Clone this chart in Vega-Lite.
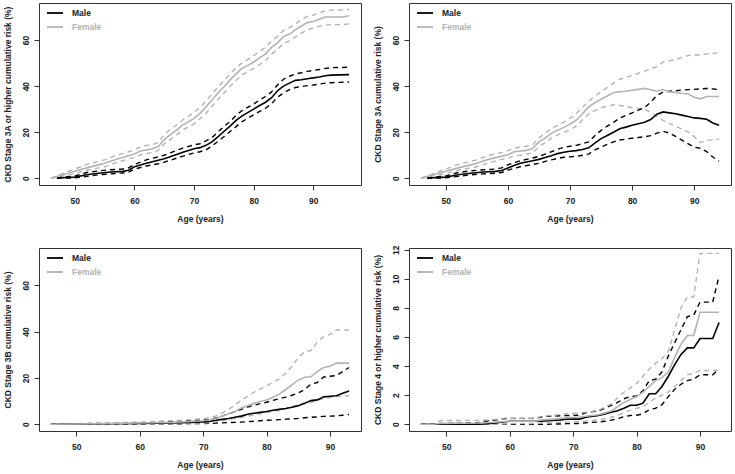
{
"$schema": "https://vega.github.io/schema/vega-lite/v6.json",
"padding": {"left": 2, "top": 2, "right": 0, "bottom": 0},
"background": "white",
"datasets": {
"p1": [
{"age":47,"sex":"Male","est":0,"lo":0,"hi":0},{"age":48,"sex":"Male","est":0.2,"lo":0,"hi":0.5},{"age":50,"sex":"Male","est":0.5,"lo":0.2,"hi":1},{"age":52,"sex":"Male","est":1.5,"lo":0.8,"hi":2.5},{"age":54,"sex":"Male","est":2.2,"lo":1.5,"hi":3.2},{"age":56,"sex":"Male","est":2.7,"lo":1.9,"hi":3.7},{"age":58,"sex":"Male","est":3,"lo":2.3,"hi":4},{"age":59,"sex":"Male","est":3.5,"lo":2.6,"hi":4.5},{"age":60,"sex":"Male","est":5,"lo":4,"hi":6},{"age":62,"sex":"Male","est":6.5,"lo":5.3,"hi":8},{"age":64,"sex":"Male","est":7.8,"lo":6.3,"hi":9.3},{"age":65,"sex":"Male","est":8.5,"lo":7,"hi":10},{"age":66,"sex":"Male","est":9.3,"lo":7.8,"hi":11},{"age":68,"sex":"Male","est":11.2,"lo":9.5,"hi":13},{"age":70,"sex":"Male","est":12.8,"lo":11,"hi":14.5},{"age":71,"sex":"Male","est":13.3,"lo":11.5,"hi":15},{"age":72,"sex":"Male","est":14.3,"lo":12.3,"hi":16.2},{"age":73,"sex":"Male","est":15.8,"lo":14,"hi":17.6},{"age":74,"sex":"Male","est":18,"lo":16,"hi":20},{"age":75,"sex":"Male","est":20.3,"lo":18,"hi":22.5},{"age":76,"sex":"Male","est":22.5,"lo":20.2,"hi":24.5},{"age":77,"sex":"Male","est":25,"lo":22.3,"hi":27.2},{"age":78,"sex":"Male","est":27,"lo":24.5,"hi":29.3},{"age":79,"sex":"Male","est":28.5,"lo":26,"hi":30.8},{"age":80,"sex":"Male","est":30,"lo":27.5,"hi":32.2},{"age":81,"sex":"Male","est":31.6,"lo":29,"hi":34},{"age":82,"sex":"Male","est":33,"lo":30.4,"hi":35.5},{"age":83,"sex":"Male","est":35,"lo":32.4,"hi":37.5},{"age":84,"sex":"Male","est":38,"lo":35.2,"hi":40.5},{"age":85,"sex":"Male","est":40,"lo":37,"hi":43},{"age":86,"sex":"Male","est":41.3,"lo":38.5,"hi":44.3},{"age":87,"sex":"Male","est":42.5,"lo":39.4,"hi":45.3},{"age":88,"sex":"Male","est":42.8,"lo":39.8,"hi":45.8},{"age":89,"sex":"Male","est":43.2,"lo":40.2,"hi":46.4},{"age":90,"sex":"Male","est":43.6,"lo":40.5,"hi":46.8},{"age":91,"sex":"Male","est":44,"lo":40.9,"hi":47.2},{"age":92,"sex":"Male","est":44.5,"lo":41.3,"hi":47.7},{"age":93,"sex":"Male","est":44.8,"lo":41.5,"hi":48},{"age":96,"sex":"Male","est":45,"lo":41.8,"hi":48.2},
{"age":46,"sex":"Female","est":0,"lo":0,"hi":0},{"age":48,"sex":"Female","est":1.5,"lo":1,"hi":2},{"age":50,"sex":"Female","est":3,"lo":2,"hi":4},{"age":52,"sex":"Female","est":4.5,"lo":3.5,"hi":6},{"age":54,"sex":"Female","est":5.8,"lo":4.5,"hi":7.4},{"age":55,"sex":"Female","est":6.5,"lo":5,"hi":8},{"age":57,"sex":"Female","est":8.3,"lo":6.8,"hi":10},{"age":59,"sex":"Female","est":9.8,"lo":8.4,"hi":11.5},{"age":60,"sex":"Female","est":10.5,"lo":9,"hi":12.3},{"age":61,"sex":"Female","est":11.8,"lo":10.2,"hi":13.6},{"age":62,"sex":"Female","est":12.3,"lo":10.6,"hi":14.2},{"age":63,"sex":"Female","est":12.8,"lo":11.2,"hi":14.6},{"age":64,"sex":"Female","est":13.8,"lo":12.1,"hi":15.5},{"age":65,"sex":"Female","est":16.8,"lo":15,"hi":19},{"age":66,"sex":"Female","est":18.8,"lo":16.8,"hi":21.2},{"age":67,"sex":"Female","est":20.8,"lo":18.6,"hi":23},{"age":68,"sex":"Female","est":23,"lo":20.8,"hi":25.2},{"age":69,"sex":"Female","est":24.5,"lo":22.3,"hi":26.8},{"age":70,"sex":"Female","est":26,"lo":23.6,"hi":28.6},{"age":71,"sex":"Female","est":28.2,"lo":25.8,"hi":30.8},{"age":72,"sex":"Female","est":31,"lo":28.2,"hi":33.5},{"age":73,"sex":"Female","est":34,"lo":31.2,"hi":36.5},{"age":74,"sex":"Female","est":37,"lo":34.2,"hi":39.6},{"age":75,"sex":"Female","est":39.6,"lo":36.9,"hi":42.3},{"age":76,"sex":"Female","est":42.6,"lo":39.7,"hi":45.2},{"age":77,"sex":"Female","est":45.2,"lo":42.4,"hi":47.9},{"age":78,"sex":"Female","est":47.6,"lo":44.8,"hi":50},{"age":79,"sex":"Female","est":49,"lo":46.3,"hi":51.5},{"age":80,"sex":"Female","est":50.5,"lo":47.7,"hi":53.2},{"age":81,"sex":"Female","est":52.3,"lo":49.4,"hi":55.1},{"age":82,"sex":"Female","est":54,"lo":51.1,"hi":56.9},{"age":83,"sex":"Female","est":56.8,"lo":53.9,"hi":59.6},{"age":84,"sex":"Female","est":58.8,"lo":55.9,"hi":61.6},{"age":85,"sex":"Female","est":61.5,"lo":58.6,"hi":64.2},{"age":86,"sex":"Female","est":62.6,"lo":59.6,"hi":65.4},{"age":87,"sex":"Female","est":64.4,"lo":61.4,"hi":67.1},{"age":88,"sex":"Female","est":66.1,"lo":63,"hi":68.8},{"age":89,"sex":"Female","est":67.6,"lo":64.5,"hi":70.3},{"age":90,"sex":"Female","est":68.1,"lo":65.2,"hi":70.9},{"age":91,"sex":"Female","est":69,"lo":66,"hi":71.8},{"age":92,"sex":"Female","est":70,"lo":66.6,"hi":72.7},{"age":93,"sex":"Female","est":70,"lo":66.7,"hi":73},{"age":95,"sex":"Female","est":70,"lo":66.8,"hi":73.1},{"age":96,"sex":"Female","est":70.6,"lo":67,"hi":73.4}
],
"p2": [
{"age":47,"sex":"Male","est":0,"lo":0,"hi":0},{"age":48,"sex":"Male","est":0.2,"lo":0,"hi":0.5},{"age":50,"sex":"Male","est":0.5,"lo":0.2,"hi":1},{"age":52,"sex":"Male","est":1.5,"lo":0.8,"hi":2.5},{"age":54,"sex":"Male","est":2.2,"lo":1.5,"hi":3.2},{"age":56,"sex":"Male","est":2.7,"lo":1.9,"hi":3.7},{"age":58,"sex":"Male","est":3,"lo":2.2,"hi":4},{"age":59,"sex":"Male","est":3.4,"lo":2.5,"hi":4.5},{"age":60,"sex":"Male","est":4.5,"lo":3.5,"hi":5.8},{"age":61,"sex":"Male","est":5.5,"lo":4.3,"hi":6.8},{"age":62,"sex":"Male","est":6.5,"lo":5,"hi":7.6},{"age":64,"sex":"Male","est":7.6,"lo":6,"hi":8.8},{"age":65,"sex":"Male","est":8.2,"lo":6.5,"hi":9.5},{"age":66,"sex":"Male","est":9,"lo":7.3,"hi":10.5},{"age":67,"sex":"Male","est":9.8,"lo":8,"hi":11.5},{"age":68,"sex":"Male","est":10.7,"lo":8.6,"hi":12.6},{"age":69,"sex":"Male","est":11.3,"lo":9.1,"hi":13.4},{"age":70,"sex":"Male","est":11.7,"lo":9.3,"hi":13.9},{"age":71,"sex":"Male","est":12,"lo":9.5,"hi":14.3},{"age":72,"sex":"Male","est":12.5,"lo":10,"hi":15},{"age":73,"sex":"Male","est":13.2,"lo":10.5,"hi":15.8},{"age":74,"sex":"Male","est":15.3,"lo":12.3,"hi":18.5},{"age":75,"sex":"Male","est":17.2,"lo":13.5,"hi":20.8},{"age":76,"sex":"Male","est":18.6,"lo":14.7,"hi":22.6},{"age":77,"sex":"Male","est":20,"lo":15.8,"hi":24.3},{"age":78,"sex":"Male","est":21.5,"lo":16.6,"hi":26.1},{"age":79,"sex":"Male","est":22.2,"lo":17,"hi":27.3},{"age":80,"sex":"Male","est":23,"lo":17.4,"hi":28.4},{"age":81,"sex":"Male","est":23.7,"lo":17.7,"hi":29.6},{"age":82,"sex":"Male","est":24.3,"lo":18,"hi":30.7},{"age":83,"sex":"Male","est":25.5,"lo":18.5,"hi":33},{"age":84,"sex":"Male","est":27.8,"lo":19.6,"hi":36},{"age":85,"sex":"Male","est":28.8,"lo":20.4,"hi":37.4},{"age":86,"sex":"Male","est":28.4,"lo":19.6,"hi":37.8},{"age":87,"sex":"Male","est":28,"lo":18.2,"hi":38},{"age":88,"sex":"Male","est":27.4,"lo":16.6,"hi":38.3},{"age":89,"sex":"Male","est":26.8,"lo":15,"hi":38.5},{"age":90,"sex":"Male","est":26.2,"lo":13.5,"hi":38.6},{"age":91,"sex":"Male","est":26,"lo":13,"hi":38.8},{"age":92,"sex":"Male","est":25.6,"lo":11.6,"hi":39},{"age":93,"sex":"Male","est":24,"lo":9.2,"hi":38.8},{"age":94,"sex":"Male","est":23,"lo":7.4,"hi":38.4},
{"age":46,"sex":"Female","est":0,"lo":0,"hi":0},{"age":48,"sex":"Female","est":1.5,"lo":1,"hi":2},{"age":50,"sex":"Female","est":3,"lo":2,"hi":4},{"age":52,"sex":"Female","est":4.5,"lo":3.5,"hi":6},{"age":54,"sex":"Female","est":5.8,"lo":4.5,"hi":7.4},{"age":55,"sex":"Female","est":6.5,"lo":5,"hi":8},{"age":57,"sex":"Female","est":8.3,"lo":6.8,"hi":10},{"age":59,"sex":"Female","est":9.6,"lo":8.2,"hi":11.2},{"age":60,"sex":"Female","est":10.2,"lo":8.6,"hi":12},{"age":61,"sex":"Female","est":11.5,"lo":9.8,"hi":13.1},{"age":62,"sex":"Female","est":11.8,"lo":10,"hi":13.5},{"age":63,"sex":"Female","est":12.1,"lo":10.5,"hi":13.9},{"age":64,"sex":"Female","est":13,"lo":11,"hi":14.6},{"age":65,"sex":"Female","est":15.8,"lo":13.8,"hi":17.6},{"age":66,"sex":"Female","est":17.4,"lo":15.4,"hi":19.5},{"age":67,"sex":"Female","est":19.5,"lo":17.4,"hi":21.6},{"age":68,"sex":"Female","est":20.9,"lo":18.8,"hi":23},{"age":69,"sex":"Female","est":22.1,"lo":19.9,"hi":24.4},{"age":70,"sex":"Female","est":23.5,"lo":21,"hi":26},{"age":71,"sex":"Female","est":25.2,"lo":22.6,"hi":28.1},{"age":72,"sex":"Female","est":28,"lo":25.3,"hi":30.8},{"age":73,"sex":"Female","est":31,"lo":27.9,"hi":33.4},{"age":74,"sex":"Female","est":32.8,"lo":29.4,"hi":35.6},{"age":75,"sex":"Female","est":34.3,"lo":30.6,"hi":37.6},{"age":76,"sex":"Female","est":35.7,"lo":31.3,"hi":39.4},{"age":77,"sex":"Female","est":37.1,"lo":31.9,"hi":41.3},{"age":78,"sex":"Female","est":37.6,"lo":31.6,"hi":43},{"age":79,"sex":"Female","est":37.8,"lo":31.1,"hi":43.8},{"age":80,"sex":"Female","est":38.2,"lo":30.6,"hi":44.6},{"age":81,"sex":"Female","est":38.6,"lo":30.3,"hi":45.6},{"age":82,"sex":"Female","est":39,"lo":30,"hi":46.5},{"age":83,"sex":"Female","est":38.4,"lo":28.6,"hi":47.5},{"age":84,"sex":"Female","est":37.8,"lo":26.9,"hi":48.5},{"age":85,"sex":"Female","est":38.5,"lo":25,"hi":50.5},{"age":86,"sex":"Female","est":37.5,"lo":23.8,"hi":51},{"age":87,"sex":"Female","est":37.3,"lo":22.6,"hi":51.5},{"age":88,"sex":"Female","est":36.9,"lo":21.4,"hi":52.5},{"age":89,"sex":"Female","est":36.6,"lo":20.1,"hi":53.3},{"age":90,"sex":"Female","est":35.2,"lo":18.1,"hi":53.5},{"age":91,"sex":"Female","est":34.5,"lo":15.5,"hi":53.5},{"age":92,"sex":"Female","est":35.5,"lo":16.4,"hi":54},{"age":94,"sex":"Female","est":35.5,"lo":17,"hi":54.5}
],
"p3": [
{"age":46,"sex":"Male","est":0,"lo":0,"hi":0},{"age":50,"sex":"Male","est":0.1,"lo":0,"hi":0.2},{"age":55,"sex":"Male","est":0.2,"lo":0,"hi":0.4},{"age":60,"sex":"Male","est":0.3,"lo":0.1,"hi":0.6},{"age":65,"sex":"Male","est":0.6,"lo":0.2,"hi":1.1},{"age":68,"sex":"Male","est":0.8,"lo":0.25,"hi":1.5},{"age":70,"sex":"Male","est":1,"lo":0.3,"hi":1.8},{"age":71,"sex":"Male","est":1.2,"lo":0.35,"hi":2.1},{"age":72,"sex":"Male","est":1.7,"lo":0.5,"hi":2.7},{"age":73,"sex":"Male","est":2.1,"lo":0.6,"hi":3.5},{"age":74,"sex":"Male","est":2.5,"lo":0.7,"hi":4.5},{"age":75,"sex":"Male","est":3,"lo":0.8,"hi":5.4},{"age":76,"sex":"Male","est":3.5,"lo":0.9,"hi":6.4},{"age":77,"sex":"Male","est":4.3,"lo":1.1,"hi":7.4},{"age":78,"sex":"Male","est":4.7,"lo":1.3,"hi":8.2},{"age":79,"sex":"Male","est":5.1,"lo":1.5,"hi":8.9},{"age":80,"sex":"Male","est":5.5,"lo":1.7,"hi":9.5},{"age":81,"sex":"Male","est":6,"lo":1.8,"hi":10.3},{"age":82,"sex":"Male","est":6.4,"lo":2,"hi":11},{"age":83,"sex":"Male","est":6.8,"lo":2.2,"hi":11.7},{"age":84,"sex":"Male","est":7.3,"lo":2.3,"hi":12.5},{"age":85,"sex":"Male","est":8,"lo":2.5,"hi":13.5},{"age":86,"sex":"Male","est":9,"lo":2.8,"hi":15},{"age":87,"sex":"Male","est":10.2,"lo":3,"hi":17.3},{"age":88,"sex":"Male","est":10.5,"lo":3.1,"hi":18},{"age":89,"sex":"Male","est":11.8,"lo":3.4,"hi":20.4},{"age":90,"sex":"Male","est":12.1,"lo":3.5,"hi":20.7},{"age":91,"sex":"Male","est":12.3,"lo":3.6,"hi":21},{"age":92,"sex":"Male","est":13.4,"lo":3.9,"hi":22.8},{"age":93,"sex":"Male","est":14.3,"lo":4.2,"hi":24.5},
{"age":46,"sex":"Female","est":0,"lo":0,"hi":0},{"age":50,"sex":"Female","est":0.1,"lo":0,"hi":0.2},{"age":55,"sex":"Female","est":0.3,"lo":0.1,"hi":0.6},{"age":60,"sex":"Female","est":0.5,"lo":0.2,"hi":0.9},{"age":65,"sex":"Female","est":0.8,"lo":0.3,"hi":1.5},{"age":68,"sex":"Female","est":1.2,"lo":0.4,"hi":2},{"age":70,"sex":"Female","est":1.5,"lo":0.5,"hi":2.5},{"age":71,"sex":"Female","est":1.9,"lo":0.7,"hi":2.9},{"age":72,"sex":"Female","est":2.5,"lo":1,"hi":3.6},{"age":73,"sex":"Female","est":3.4,"lo":1.5,"hi":4.8},{"age":74,"sex":"Female","est":4.5,"lo":2,"hi":6.4},{"age":75,"sex":"Female","est":5.5,"lo":2.5,"hi":8.2},{"age":76,"sex":"Female","est":7,"lo":3,"hi":10.3},{"age":77,"sex":"Female","est":8,"lo":3.5,"hi":12},{"age":78,"sex":"Female","est":9,"lo":4,"hi":13.8},{"age":79,"sex":"Female","est":9.8,"lo":4.5,"hi":15.2},{"age":80,"sex":"Female","est":10.5,"lo":5,"hi":16.6},{"age":81,"sex":"Female","est":11.6,"lo":5.5,"hi":18.2},{"age":82,"sex":"Female","est":13,"lo":6,"hi":19.6},{"age":83,"sex":"Female","est":15,"lo":6.7,"hi":22},{"age":84,"sex":"Female","est":17,"lo":7.5,"hi":25},{"age":85,"sex":"Female","est":19,"lo":8.5,"hi":28.8},{"age":86,"sex":"Female","est":20.3,"lo":9,"hi":31.3},{"age":87,"sex":"Female","est":20.5,"lo":9.3,"hi":31.8},{"age":88,"sex":"Female","est":22.8,"lo":10.4,"hi":35.5},{"age":89,"sex":"Female","est":24.5,"lo":11,"hi":37.8},{"age":90,"sex":"Female","est":25,"lo":11.5,"hi":38.8},{"age":91,"sex":"Female","est":26.4,"lo":12,"hi":40.7},{"age":93,"sex":"Female","est":26.4,"lo":12.3,"hi":40.7}
],
"p4": [
{"age":46,"sex":"Male","est":0,"lo":0,"hi":0},{"age":49,"sex":"Male","est":0,"lo":0,"hi":0.05},{"age":55,"sex":"Male","est":0,"lo":0,"hi":0.1},{"age":56,"sex":"Male","est":0.02,"lo":0,"hi":0.2},{"age":57,"sex":"Male","est":0.05,"lo":0,"hi":0.25},{"age":58,"sex":"Male","est":0.1,"lo":0,"hi":0.3},{"age":59,"sex":"Male","est":0.15,"lo":0,"hi":0.38},{"age":60,"sex":"Male","est":0.2,"lo":0,"hi":0.4},{"age":64,"sex":"Male","est":0.2,"lo":0,"hi":0.4},{"age":65,"sex":"Male","est":0.2,"lo":0,"hi":0.5},{"age":66,"sex":"Male","est":0.25,"lo":0,"hi":0.55},{"age":68,"sex":"Male","est":0.3,"lo":0.02,"hi":0.58},{"age":69,"sex":"Male","est":0.35,"lo":0.04,"hi":0.6},{"age":71,"sex":"Male","est":0.35,"lo":0.05,"hi":0.62},{"age":72,"sex":"Male","est":0.48,"lo":0.1,"hi":0.8},{"age":74,"sex":"Male","est":0.6,"lo":0.15,"hi":0.92},{"age":75,"sex":"Male","est":0.7,"lo":0.2,"hi":1.1},{"age":76,"sex":"Male","est":0.82,"lo":0.28,"hi":1.3},{"age":77,"sex":"Male","est":0.92,"lo":0.38,"hi":1.5},{"age":78,"sex":"Male","est":1.1,"lo":0.52,"hi":1.75},{"age":79,"sex":"Male","est":1.3,"lo":0.6,"hi":1.9},{"age":80,"sex":"Male","est":1.3,"lo":0.62,"hi":1.95},{"age":81,"sex":"Male","est":1.45,"lo":0.72,"hi":2.3},{"age":82,"sex":"Male","est":2.1,"lo":1,"hi":3},{"age":83,"sex":"Male","est":2.1,"lo":1.1,"hi":3.1},{"age":84,"sex":"Male","est":2.6,"lo":1.35,"hi":3.6},{"age":85,"sex":"Male","est":3.3,"lo":1.9,"hi":4.7},{"age":86,"sex":"Male","est":4.1,"lo":2.4,"hi":5.6},{"age":87,"sex":"Male","est":4.8,"lo":2.75,"hi":6.5},{"age":88,"sex":"Male","est":5.25,"lo":3,"hi":7.4},{"age":89,"sex":"Male","est":5.25,"lo":3.1,"hi":7.5},{"age":90,"sex":"Male","est":5.9,"lo":3.4,"hi":8.4},{"age":92,"sex":"Male","est":5.9,"lo":3.4,"hi":8.4},{"age":93,"sex":"Male","est":7,"lo":3.8,"hi":10.2},
{"age":46,"sex":"Female","est":0,"lo":0,"hi":0},{"age":48,"sex":"Female","est":0,"lo":0,"hi":0},{"age":49,"sex":"Female","est":0.05,"lo":0,"hi":0.25},{"age":55,"sex":"Female","est":0.08,"lo":0,"hi":0.27},{"age":57,"sex":"Female","est":0.12,"lo":0,"hi":0.3},{"age":58,"sex":"Female","est":0.15,"lo":0,"hi":0.35},{"age":60,"sex":"Female","est":0.2,"lo":0.04,"hi":0.38},{"age":64,"sex":"Female","est":0.2,"lo":0.05,"hi":0.4},{"age":65,"sex":"Female","est":0.3,"lo":0.08,"hi":0.55},{"age":67,"sex":"Female","est":0.35,"lo":0.12,"hi":0.62},{"age":69,"sex":"Female","est":0.45,"lo":0.15,"hi":0.72},{"age":71,"sex":"Female","est":0.5,"lo":0.2,"hi":0.78},{"age":73,"sex":"Female","est":0.6,"lo":0.25,"hi":0.88},{"age":74,"sex":"Female","est":0.65,"lo":0.3,"hi":0.98},{"age":75,"sex":"Female","est":0.78,"lo":0.38,"hi":1.15},{"age":76,"sex":"Female","est":0.9,"lo":0.48,"hi":1.4},{"age":77,"sex":"Female","est":1.2,"lo":0.6,"hi":1.8},{"age":78,"sex":"Female","est":1.5,"lo":0.8,"hi":2.2},{"age":79,"sex":"Female","est":1.7,"lo":0.95,"hi":2.5},{"age":80,"sex":"Female","est":1.9,"lo":1.1,"hi":2.8},{"age":81,"sex":"Female","est":2.2,"lo":1.2,"hi":3.3},{"age":82,"sex":"Female","est":2.6,"lo":1.5,"hi":3.8},{"age":83,"sex":"Female","est":3,"lo":1.8,"hi":4.2},{"age":84,"sex":"Female","est":3.2,"lo":2,"hi":4.5},{"age":85,"sex":"Female","est":3.6,"lo":2.2,"hi":5},{"age":86,"sex":"Female","est":4.6,"lo":2.6,"hi":6.5},{"age":87,"sex":"Female","est":5.5,"lo":3,"hi":8},{"age":88,"sex":"Female","est":6.1,"lo":3.4,"hi":8.75},{"age":89,"sex":"Female","est":6.1,"lo":3.5,"hi":8.75},{"age":90,"sex":"Female","est":7.7,"lo":3.7,"hi":11.75},{"age":93,"sex":"Female","est":7.7,"lo":3.7,"hi":11.75}
]
},
"vconcat": [
{"hconcat": [
{"width": 322, "height": 182, "data": {"name": "p1"},
 "encoding": {"x": {"field": "age", "type": "quantitative", "scale": {"domain": [44, 98], "nice": false, "zero": false}, "axis": {"title": "Age (years)", "values": [50,60,70,80,90]}},
  "color": {"field": "sex", "type": "nominal", "scale": {"domain": ["Male","Female"], "range": ["black","#b3b3b3"]}, "legend": {"title": null, "orient": "none", "legendX": 7, "legendY": 1}}},
 "layer": [
  {"mark": {"type": "line", "strokeWidth": 1.4, "strokeDash": [5,4]}, "encoding": {"y": {"field": "lo", "type": "quantitative", "title": "CKD Stage 3A or higher cumulative risk (%)", "scale": {"domain": [-2.93, 76.1], "nice": false, "zero": false}, "axis": {"values": [0,20,40,60]}}}},
  {"mark": {"type": "line", "strokeWidth": 1.4, "strokeDash": [5,4]}, "encoding": {"y": {"field": "hi", "type": "quantitative", "title": "CKD Stage 3A or higher cumulative risk (%)", "scale": {"domain": [-2.93, 76.1], "nice": false, "zero": false}, "axis": {"values": [0,20,40,60]}}}},
  {"mark": {"type": "line", "strokeWidth": 1.6}, "encoding": {"y": {"field": "est", "type": "quantitative", "title": "CKD Stage 3A or higher cumulative risk (%)", "scale": {"domain": [-2.93, 76.1], "nice": false, "zero": false}, "axis": {"values": [0,20,40,60]}}}}
 ]},
{"width": 322, "height": 182, "data": {"name": "p2"},
 "encoding": {"x": {"field": "age", "type": "quantitative", "scale": {"domain": [44.08, 95.92], "nice": false, "zero": false}, "axis": {"title": "Age (years)", "values": [50,60,70,80,90]}},
  "color": {"field": "sex", "type": "nominal", "scale": {"domain": ["Male","Female"], "range": ["black","#b3b3b3"]}, "legend": {"title": null, "orient": "none", "legendX": 7, "legendY": 1}}},
 "layer": [
  {"mark": {"type": "line", "strokeWidth": 1.4, "strokeDash": [5,4]}, "encoding": {"y": {"field": "lo", "type": "quantitative", "title": "CKD Stage 3A cumulative risk (%)", "scale": {"domain": [-2.93, 76.1], "nice": false, "zero": false}, "axis": {"values": [0,20,40,60]}}}},
  {"mark": {"type": "line", "strokeWidth": 1.4, "strokeDash": [5,4]}, "encoding": {"y": {"field": "hi", "type": "quantitative", "title": "CKD Stage 3A cumulative risk (%)", "scale": {"domain": [-2.93, 76.1], "nice": false, "zero": false}, "axis": {"values": [0,20,40,60]}}}},
  {"mark": {"type": "line", "strokeWidth": 1.6}, "encoding": {"y": {"field": "est", "type": "quantitative", "title": "CKD Stage 3A cumulative risk (%)", "scale": {"domain": [-2.93, 76.1], "nice": false, "zero": false}, "axis": {"values": [0,20,40,60]}}}}
 ]}
], "spacing": 10, "resolve": {"scale": {"color": "independent"}, "legend": {"color": "independent"}}},
{"hconcat": [
{"width": 322, "height": 183, "data": {"name": "p3"},
 "encoding": {"x": {"field": "age", "type": "quantitative", "scale": {"domain": [44.12, 94.88], "nice": false, "zero": false}, "axis": {"title": "Age (years)", "values": [50,60,70,80,90]}},
  "color": {"field": "sex", "type": "nominal", "scale": {"domain": ["Male","Female"], "range": ["black","#b3b3b3"]}, "legend": {"title": null, "orient": "none", "legendX": 7, "legendY": 1}}},
 "layer": [
  {"mark": {"type": "line", "strokeWidth": 1.4, "strokeDash": [5,4]}, "encoding": {"y": {"field": "lo", "type": "quantitative", "title": "CKD Stage 3B cumulative risk (%)", "scale": {"domain": [-2.93, 76.1], "nice": false, "zero": false}, "axis": {"values": [0,20,40,60]}}}},
  {"mark": {"type": "line", "strokeWidth": 1.4, "strokeDash": [5,4]}, "encoding": {"y": {"field": "hi", "type": "quantitative", "title": "CKD Stage 3B cumulative risk (%)", "scale": {"domain": [-2.93, 76.1], "nice": false, "zero": false}, "axis": {"values": [0,20,40,60]}}}},
  {"mark": {"type": "line", "strokeWidth": 1.6}, "encoding": {"y": {"field": "est", "type": "quantitative", "title": "CKD Stage 3B cumulative risk (%)", "scale": {"domain": [-2.93, 76.1], "nice": false, "zero": false}, "axis": {"values": [0,20,40,60]}}}}
 ]},
{"width": 322, "height": 183, "data": {"name": "p4"},
 "encoding": {"x": {"field": "age", "type": "quantitative", "scale": {"domain": [44.12, 94.88], "nice": false, "zero": false}, "axis": {"title": "Age (years)", "values": [50,60,70,80,90]}},
  "color": {"field": "sex", "type": "nominal", "scale": {"domain": ["Male","Female"], "range": ["black","#b3b3b3"]}, "legend": {"title": null, "orient": "none", "legendX": 7, "legendY": 1}}},
 "layer": [
  {"mark": {"type": "line", "strokeWidth": 1.4, "strokeDash": [5,4]}, "encoding": {"y": {"field": "lo", "type": "quantitative", "title": "CKD Stage 4 or higher cumulative risk (%)", "scale": {"domain": [-0.466, 12.12], "nice": false, "zero": false}, "axis": {"values": [0,2,4,6,8,10,12]}}}},
  {"mark": {"type": "line", "strokeWidth": 1.4, "strokeDash": [5,4]}, "encoding": {"y": {"field": "hi", "type": "quantitative", "title": "CKD Stage 4 or higher cumulative risk (%)", "scale": {"domain": [-0.466, 12.12], "nice": false, "zero": false}, "axis": {"values": [0,2,4,6,8,10,12]}}}},
  {"mark": {"type": "line", "strokeWidth": 1.6}, "encoding": {"y": {"field": "est", "type": "quantitative", "title": "CKD Stage 4 or higher cumulative risk (%)", "scale": {"domain": [-0.466, 12.12], "nice": false, "zero": false}, "axis": {"values": [0,2,4,6,8,10,12]}}}}
 ]}
], "spacing": 10, "resolve": {"scale": {"color": "independent"}, "legend": {"color": "independent"}}}
],
"spacing": 20,
"resolve": {"scale": {"color": "independent"}, "legend": {"color": "independent"}},
"config": {
 "font": "Liberation Sans",
 "view": {"stroke": "#333333", "strokeWidth": 1},
 "axis": {"grid": false, "domain": false, "tickColor": "#333333", "tickSize": 5, "labelFont": "Liberation Sans", "labelFontWeight": "bold", "labelFontSize": 8.5, "labelColor": "#222222", "titleFont": "Liberation Sans", "titleFontWeight": "bold", "titleFontSize": 8.5, "titleColor": "#222222"},
 "axisY": {"labelAngle": -90, "labelPadding": 4, "titlePadding": 9},
 "axisX": {"labelPadding": 6, "titlePadding": 10},
 "legend": {"symbolType": "stroke", "symbolSize": 256, "symbolStrokeWidth": 1.8, "labelFont": "Liberation Sans", "labelFontWeight": "bold", "labelFontSize": 8.5, "labelColor": {"expr": "datum.label == 'Female' ? '#b3b3b3' : '#222222'"}, "labelOffset": 8, "rowPadding": -6, "padding": 0}
}
}
